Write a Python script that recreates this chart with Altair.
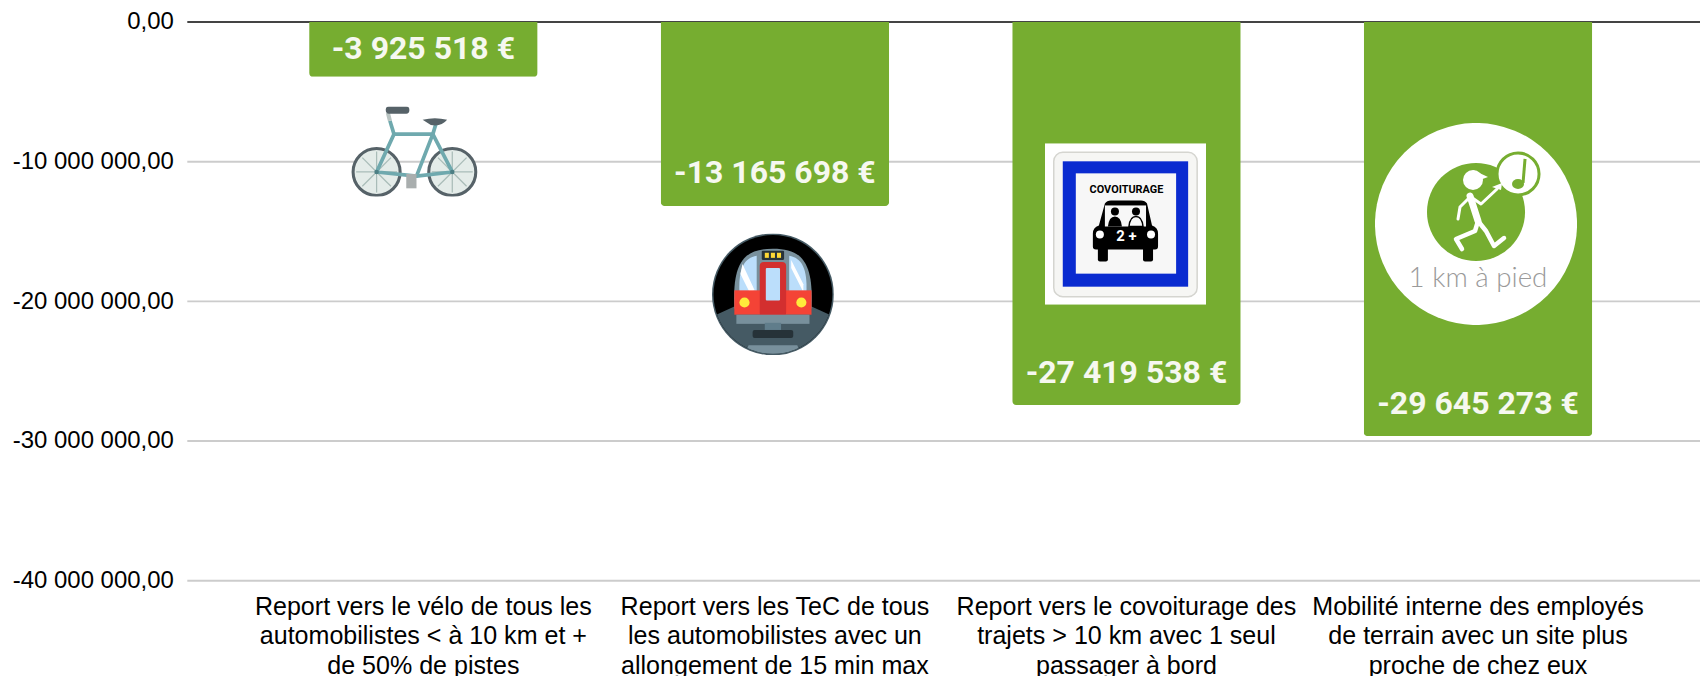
import urllib.parse
import altair as alt
import pandas as pd

categories = [
    "Report vers le vélo de tous les\nautomobilistes < à 10 km et +\nde 50% de pistes",
    "Report vers les TeC de tous\nles automobilistes avec un\nallongement de 15 min max",
    "Report vers le covoiturage des\ntrajets > 10 km avec 1 seul\npassager à bord",
    "Mobilité interne des employés\nde terrain avec un site plus\nproche de chez eux",
]
values = [-3925518, -13165698, -27419538, -29645273]
bar_labels = ["-3 925 518 €", "-13 165 698 €", "-27 419 538 €", "-29 645 273 €"]
label_levels = [-1950000, -10800000, -25140000, -27330000]
y_ticks = [0, -10000000, -20000000, -30000000, -40000000]
icon_levels = [-9270000, -19500000, -14460000, -14460000]

GREEN = "#76ad30"
FONT = "Liberation Sans"


def uri(svg):
    return "data:image/svg+xml," + urllib.parse.quote(svg)


spokes_l = "".join(
    f'<line x1="25" y1="64" x2="{x}" y2="{y}"/>'
    for x, y in [(25, 44), (39, 50), (45, 64), (39, 78), (25, 84), (11, 78), (5, 64), (11, 50)]
)
spokes_r = "".join(
    f'<line x1="99" y1="64" x2="{x}" y2="{y}"/>'
    for x, y in [(99, 44), (113, 50), (119, 64), (113, 78), (99, 84), (85, 78), (79, 64), (85, 50)]
)
bike = f'''<svg xmlns="http://www.w3.org/2000/svg" width="128" height="91" viewBox="0 0 124 88">
<g fill="#e4ece9" stroke="#566268" stroke-width="3"><ellipse cx="25" cy="64" rx="23" ry="23"/><ellipse cx="99" cy="64" rx="23" ry="23"/></g>
<g stroke="#a9bcb8" stroke-width="1.2">{spokes_l}{spokes_r}</g>
<g fill="none" stroke="#6fa9ae" stroke-width="3.6" stroke-linejoin="round">
<path d="M25 64 L42 27 L80 27 L64 68 Z"/><path d="M64 68 L99 64 L80 27"/><path d="M80 27 L83 17"/><path d="M42 27 L38 14"/></g>
<path d="M38 14 L36 6" stroke="#b9c4c2" stroke-width="4"/>
<rect x="34" y="0" width="23" height="7" rx="3" fill="#566268"/>
<path d="M70 13 Q82 10 94 13 Q88 20 78 18 Z" fill="#566268"/>
<rect x="54" y="66" width="10" height="14" fill="#a9aeae"/>
<circle cx="25" cy="64" r="2.2" fill="#4d7f84"/><circle cx="99" cy="64" r="2.2" fill="#4d7f84"/>
</svg>'''

metro = '''<svg xmlns="http://www.w3.org/2000/svg" width="123" height="123" viewBox="0 0 120 120">
<defs><clipPath id="c"><circle cx="60" cy="60" r="58.5"/></clipPath></defs>
<circle cx="60" cy="60" r="60" fill="#455a64"/>
<g clip-path="url(#c)">
<rect width="120" height="120" fill="#000"/>
<path d="M0 82 L22 72 L98 72 L120 82 L120 120 L0 120 Z" fill="#455a64"/>
<path d="M22 74 C20 30 30 15 60 15 C90 15 100 30 98 74 Z" fill="#78909c"/>
<path d="M27 58 C26 34 32 24 44 22 L44 58 Z" fill="#bbdefb"/>
<path d="M93 58 C94 34 88 24 76 22 L76 58 Z" fill="#bbdefb"/>
<path d="M30 30 L42 56 L37 58 L28 40 Z" fill="#fff"/><path d="M78 26 L90 50 L90 58 L78 34 Z" fill="#fff"/>
<rect x="22" y="56" width="76" height="24" fill="#f44336"/>
<rect x="47" y="28" width="26" height="54" rx="4" fill="#d32f2f"/>
<rect x="53" y="34" width="14" height="32" rx="1" fill="#bbdefb"/>
<rect x="49" y="17" width="22" height="9" rx="1" fill="#263238"/>
<rect x="52" y="19" width="4" height="5" fill="#fdd835"/><rect x="58" y="19" width="4" height="5" fill="#fdd835"/><rect x="64" y="19" width="4" height="5" fill="#fdd835"/>
<circle cx="32" cy="68" r="5" fill="#ffeb3b"/><circle cx="88" cy="68" r="5" fill="#ffeb3b"/>
<rect x="24" y="80" width="72" height="9" fill="#78909c"/>
<rect x="52" y="88" width="16" height="7" fill="#607d8b"/>
<rect x="40" y="95" width="40" height="8" rx="2" fill="#263238"/>
<path d="M36 110 L84 110 L88 120 L32 120 Z" fill="#78909c"/>
</g></svg>'''

cov = '''<svg xmlns="http://www.w3.org/2000/svg" width="163" height="163" viewBox="0 0 161 161">
<rect width="161" height="161" fill="#fff"/>
<rect x="9" y="9" width="143" height="144" rx="9" fill="#f6f6f4" stroke="#d5d5d0" stroke-width="1.5"/>
<rect x="18" y="18" width="125" height="125" fill="#0a2bd0"/>
<rect x="31" y="30" width="100" height="100" fill="#f7f7f7"/>
<path d="M60 60 Q62 57 66 57 L96 57 Q100 57 102 60 L107 82 Q113 84 113 90 L113 103 Q113 106 110 106 L51 106 Q48 106 48 103 L48 90 Q48 84 54 82 Z" fill="#000"/>
<rect x="53" y="100" width="10" height="18" rx="2" fill="#000"/><rect x="98" y="100" width="10" height="18" rx="2" fill="#000"/>
<rect x="60" y="62" width="41" height="21" fill="#f7f7f7"/>
<circle cx="70" cy="68" r="4" fill="#000"/><path d="M63 83 Q64 73 70 73 Q76 73 77 83 Z" fill="#000"/>
<circle cx="91" cy="68" r="4" fill="#000"/><path d="M84 83 Q85 73 91 73 Q97 73 98 83 Z" fill="none" stroke="#000" stroke-width="1.5"/>
<circle cx="55" cy="91" r="4" fill="#fff"/><circle cx="106" cy="91" r="4" fill="#fff"/>
</svg>'''

walker = f'''<svg xmlns="http://www.w3.org/2000/svg" width="204" height="204" viewBox="0 0 202 202">
<circle cx="101" cy="101" r="101" fill="#fff"/>
<circle cx="101" cy="89" r="49" fill="{GREEN}"/>
<circle cx="143" cy="51" r="21" fill="#fff" stroke="{GREEN}" stroke-width="3"/>
<path d="M127 60 L117 64 L126 67 Z" fill="#fff"/>
<path d="M150 36 L148 60" stroke="{GREEN}" stroke-width="3" fill="none"/>
<ellipse cx="143" cy="61" rx="6" ry="5" fill="{GREEN}"/>
<circle cx="98" cy="57" r="10" fill="#fff"/><path d="M98 47 L113 54 L102 58 Z" fill="#fff"/>
<g fill="none" stroke="#fff" stroke-linecap="round" stroke-linejoin="round">
<path d="M95 73 L103 98" stroke-width="7"/>
<path d="M93 76 L85 84 L83 96" stroke-width="3"/>
<path d="M96 74 L106 81 L122 66" stroke-width="3"/>
<path d="M103 98 L100 108 L81 116 L87 126" stroke-width="4.5"/>
<path d="M103 98 L111 108 L119 123 L129 115" stroke-width="4.5"/>
</g></svg>'''

icons = [
    (bike, 128, 91, -9),
    (metro, 123, 123, -2),
    (cov, 163, 163, -1),
    (walker, 204, 204, -2),
]

df = pd.DataFrame({
    "cat": categories,
    "value": values,
    "label": bar_labels,
    "level": label_levels,
    "icon": icon_levels,
})

x_scale = alt.Scale(domain=categories, paddingInner=0.35, paddingOuter=0.3265, align=0.5306, round=False)
y_scale = alt.Scale(domain=[-40000000, 0], nice=False)
x_axis = alt.Axis(
    domain=False, ticks=False, grid=False, labelAngle=0, labelFont=FONT, labelFontSize=25.3,
    labelColor="#000", labelLimit=500, labelOverlap=False, labelPadding=14, labelLineHeight=29.8,
    labelExpr="split(datum.label, '\\n')", labelBaseline="top",
)
y_axis = alt.Axis(
    values=y_ticks, domain=False, ticks=False, grid=False,
    labelFont=FONT, labelFontSize=24.2, labelColor="#000", labelPadding=14, labelLimit=300,
    labelExpr="replace(replace(replace(format(datum.value, ',.2f'), /,/g, ' '), '.', ','), '\u2212', '-')",
)


def X():
    return alt.X("cat:N", scale=x_scale, sort=None, title=None, axis=x_axis)


def Y(field):
    return alt.Y(f"{field}:Q", scale=y_scale, title=None, axis=y_axis)


grid = alt.Chart(pd.DataFrame({"z": y_ticks[1:]})).mark_rule(color="#cccccc", strokeWidth=2).encode(y=Y("z"))
zero = alt.Chart(pd.DataFrame({"z": y_ticks[:1]})).mark_rule(color="#444444", strokeWidth=2).encode(y=Y("z"))
bars = alt.Chart(df).mark_bar(color=GREEN, cornerRadiusBottomLeft=4, cornerRadiusBottomRight=4).encode(x=X(), y=Y("value"))
text = alt.Chart(df).mark_text(
    font="Roboto", fontWeight="bold", fontSize=32.3, color="#f6f8f0", align="center", baseline="middle"
).encode(x=X(), y=Y("level"), text="label:N")

layers = [grid, zero, bars, text]
for i, (svg, w, h, dx) in enumerate(icons):
    layers.append(
        alt.Chart(df.iloc[[i]]).mark_image(url=uri(svg), width=w, height=h, xOffset=dx).encode(x=X(), y=Y("icon"))
    )

small = pd.DataFrame({
    "cat": [categories[2], categories[2], categories[3]],
    "t": ["COVOITURAGE", "2 +", "1 km à pied"],
    "lv": [-12000000, -15290000, -18430000],
})
for row, size, color, font, weight in [
    (0, 11, "#000000", "Roboto", "bold"),
    (1, 15, "#ffffff", "Roboto", "bold"),
    (2, 28, "#9a9a9a", "Lato", 300),
]:
    layers.append(
        alt.Chart(small.iloc[[row]]).mark_text(
            font=font, fontSize=size, color=color, fontWeight=weight, align="center", baseline="middle"
        ).encode(x=X(), y=Y("lv"), text="t:N")
    )

chart = alt.layer(*layers).properties(
    width=1527, height=564,
    padding={"left": 181, "top": 11, "right": 0, "bottom": 93},
    autosize=alt.AutoSizeParams(type="none"),
    background="#ffffff",
).configure_view(stroke=None)

chart.save("out.html", embed_options={"renderer": "svg", "actions": False})
